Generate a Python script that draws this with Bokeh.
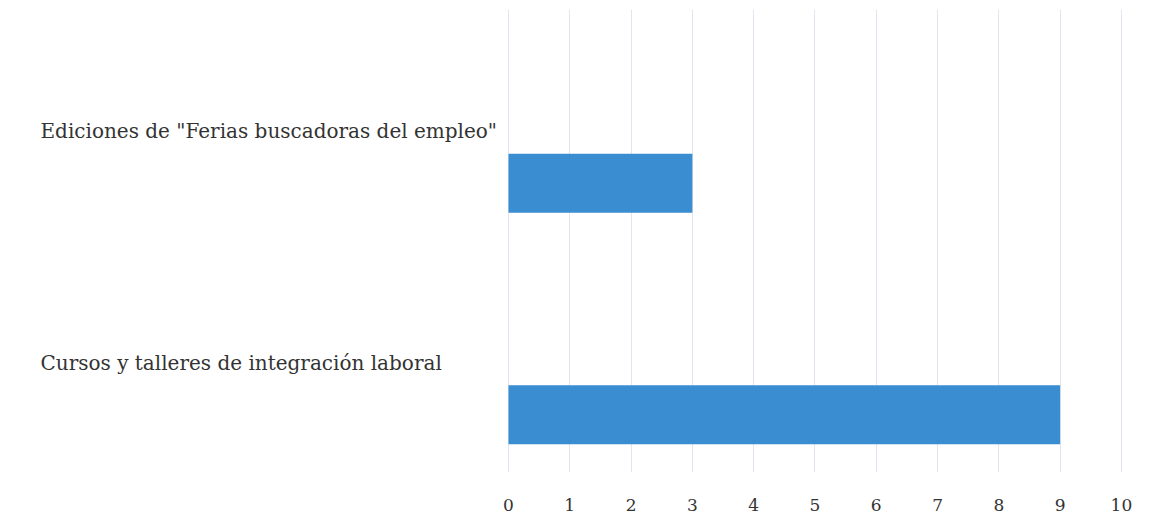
from bokeh.plotting import figure
from bokeh.models import FixedTicker, Range1d, ColumnDataSource
from bokeh.core.properties import value
from bokeh.embed import file_html
from bokeh.resources import INLINE

categories = ['Ediciones de "Ferias buscadoras del empleo"', "Cursos y talleres de integración laboral"]
values = [3, 9]
x_ticks = [0, 1, 2, 3, 4, 5, 6, 7, 8, 9, 10]

pos = [len(categories) - 1 - i for i in range(len(categories))]
src = ColumnDataSource(dict(cat=categories, val=values, pos=pos))

FONT = "DejaVu Serif"

p = figure(width=1143, height=513, output_backend="svg", toolbar_location=None,
           x_range=Range1d(-8.157, 10.36), y_range=Range1d(-0.249, 1.751),
           min_border_left=8, min_border_right=0, min_border_top=9, min_border_bottom=41)
p.outline_line_color = None
p.background_fill_color = "white"

p.hbar(y="pos", right="val", left=0, height=0.255, source=src,
       fill_color="#3a8dd0", line_color=None)

p.text(x=0, y="pos", text="cat", source=src, x_offset=-468, y_offset=-52,
       text_align="left", text_baseline="middle", text_font=value(FONT),
       text_font_size="20px", text_color="#333333")

p.xaxis.ticker = FixedTicker(ticks=x_ticks)
p.xaxis.axis_line_color = None
p.xaxis.major_tick_line_color = None
p.xaxis.minor_tick_line_color = None
p.xaxis.major_label_standoff = 20
p.xaxis.major_label_text_font = FONT
p.xaxis.major_label_text_font_size = "17px"
p.xaxis.major_label_text_color = "#333333"
p.yaxis.visible = False
p.xgrid.ticker = FixedTicker(ticks=x_ticks)
p.xgrid.grid_line_color = "#e0e5f0"
p.ygrid.grid_line_color = None

open("out.html", "w").write(file_html(p, INLINE))
